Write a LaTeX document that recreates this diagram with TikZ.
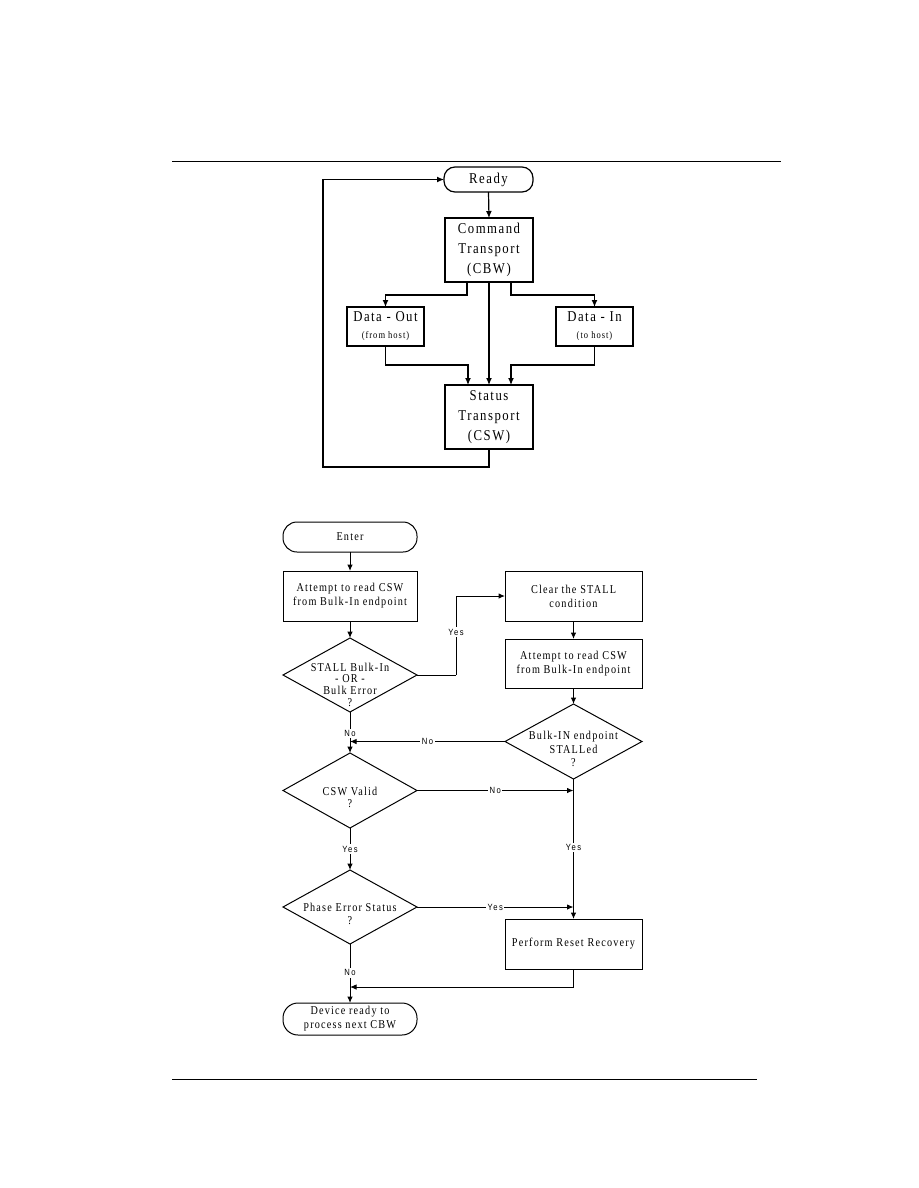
\documentclass[tikz,border=0pt]{standalone}
\usepackage{fontspec}
\setmainfont{Liberation Serif}
\newfontfamily\tfont{Liberation Serif}[FakeStretch=0.85, LetterSpace=10]
\newfontfamily\lfont{Liberation Sans}[FakeStretch=0.85, LetterSpace=15]
\usetikzlibrary{shapes.geometric,arrows.meta,calc}
\begin{document}
\begin{tikzpicture}[x=1pt,y=-1pt,
  every node/.style={inner sep=0pt, outer sep=0pt},
  box/.style={draw, line width=1pt, align=center},
  term/.style={box, rounded corners=11pt},
  dia/.style={draw, line width=1pt, diamond, minimum width=134pt, minimum height=74pt},
  bigtxt/.style={font=\tfont\fontsize{15}{20}\selectfont},
  smltxt/.style={font=\tfont\fontsize{12}{14}\selectfont},
  lbl/.style={font=\lfont\fontsize{9}{10}\selectfont, fill=white, inner sep=1.5pt},
  arr/.style={line width=1pt, -{Latex[length=6.5pt,width=5.5pt]}},
  tarr/.style={line width=1.2pt, -{Latex[length=7pt,width=6pt]}},
  ln/.style={line width=1pt}]
\useasboundingbox (0,0) rectangle (918,1188);
% page rules
\coordinate (r1a) at (172,161); \coordinate (r1b) at (781,161);
\coordinate (r2a) at (172,1079); \coordinate (r2b) at (757,1079);
\draw[line width=1pt] (r1a) -- (r1b);
\draw[line width=1pt] (r2a) -- (r2b);

% ---------- top diagram ----------
\node[term, bigtxt, line width=1.2pt, minimum width=89pt, minimum height=25pt] (rdy) at (488.5,179.5) {Ready};
\node[box, bigtxt, line width=1.2pt, minimum width=88pt, minimum height=64pt] (cmd) at (489,250) {Command\\Transport\\(CBW)};
\node[box, bigtxt, line width=1.2pt, minimum width=77pt, minimum height=39pt] (dout) at (385.5,326.5) {Data - Out\\[-3pt]{\fontsize{10}{12}\selectfont (from host)}};
\node[box, bigtxt, line width=1.2pt, minimum width=77pt, minimum height=39pt] (din) at (594.5,326.5) {Data - In\\[-3pt]{\fontsize{10}{12}\selectfont (to host)}};
\node[box, bigtxt, line width=1.2pt, minimum width=88pt, minimum height=64pt] (st) at (489,417) {Status\\Transport\\(CSW)};
\coordinate (loop) at (323,467);

\draw[tarr] (rdy.south) -- (cmd.north);
\draw[tarr] ([xshift=-22pt]cmd.south) -- ++(0,13) -| (dout.north);
\draw[tarr] ([xshift=22pt]cmd.south) -- ++(0,13) -| (din.north);
\draw[tarr] (cmd.south) -- (st.north);
\draw[tarr] (dout.south) -- ++(0,19) -| ([xshift=-21pt]st.north);
\draw[tarr] (din.south) -- ++(0,19) -| ([xshift=22pt]st.north);
\draw[tarr] (st.south) |- (loop) |- (rdy.west);

% ---------- bottom diagram ----------
\node[term, smltxt, minimum width=134pt, minimum height=30pt, rounded corners=14pt] (ent) at (350,537) {Enter};
\node[box, smltxt, minimum width=134pt, minimum height=50pt] (att1) at (350,596) {Attempt to read CSW\\from Bulk-In endpoint};
\node[dia] (stall) at (350,675) {};
\node[align=center, font=\tfont\fontsize{12}{11.7}\selectfont] (stallt) at (350,684.5) {STALL Bulk-In\\- OR -\\Bulk Error\\?};
\node[box, smltxt, minimum width=137pt, minimum height=50pt] (clr) at (573.5,596) {Clear the STALL\\condition};
\node[box, smltxt, minimum width=137pt, minimum height=49pt] (att2) at (573.5,663.5) {Attempt to read CSW\\from Bulk-In endpoint};
\node[dia, minimum width=137pt, minimum height=75pt] (bulk) at (573.5,741.5) {};
\node[align=center, font=\tfont\fontsize{12}{13.5}\selectfont] (bulkt) at (573.5,749) {Bulk-IN endpoint\\STALLed\\?};
\node[dia, minimum height=75pt] (csw) at (350,790.5) {};
\node[align=center, font=\tfont\fontsize{12}{12}\selectfont] (cswt) at (350,797.5) {CSW Valid\\?};
\node[dia] (ph) at (350,907) {};
\node[align=center, font=\tfont\fontsize{12}{13}\selectfont] (pht) at (350,914) {Phase Error Status\\?};
\node[box, smltxt, minimum width=137pt, minimum height=50pt] (rst) at (573.5,944) {Perform Reset Recovery};
\node[term, smltxt, minimum width=134pt, minimum height=32pt, rounded corners=15pt] (dev) at (350,1019) {Device ready to\\process next CBW};

\coordinate (ybend) at (456,675);
\coordinate (j1) at (350,741.5);
\coordinate (j2) at (573.5,790.5);
\coordinate (j3) at (573.5,907);
\coordinate (j4) at (350,987);

\draw[arr] (ent.south) -- (att1.north);
\draw[arr] (att1.south) -- (stall.north);
\draw[ln] (stall.east) -- (ybend);
\draw[arr] (ybend) |- (clr.west);
\node[lbl] (lyes1) at (456,632) {Yes};
\draw[arr] (clr.south) -- (att2.north);
\draw[arr] (att2.south) -- (bulk.north);
\draw[arr] (bulk.west) -- node[lbl] (lno1) {No} (j1);
\draw[arr] (stall.south) -- node[lbl, pos=0.52] (lno2) {No} (csw.north);
\draw[arr] (csw.east) -- node[lbl] (lno3) {No} (j2);
\draw[arr] (bulk.south) -- node[lbl, pos=0.49] (lyes2) {Yes} (rst.north);
\draw[arr] (csw.south) -- node[lbl] (lyes3) {Yes} (ph.north);
\draw[arr] (ph.east) -- node[lbl] (lyes4) {Yes} (j3);
\draw[arr] (ph.south) -- node[lbl, pos=0.49] (lno4) {No} (dev.north);
\draw[arr] (rst.south) |- (j4);
\end{tikzpicture}
\end{document}
